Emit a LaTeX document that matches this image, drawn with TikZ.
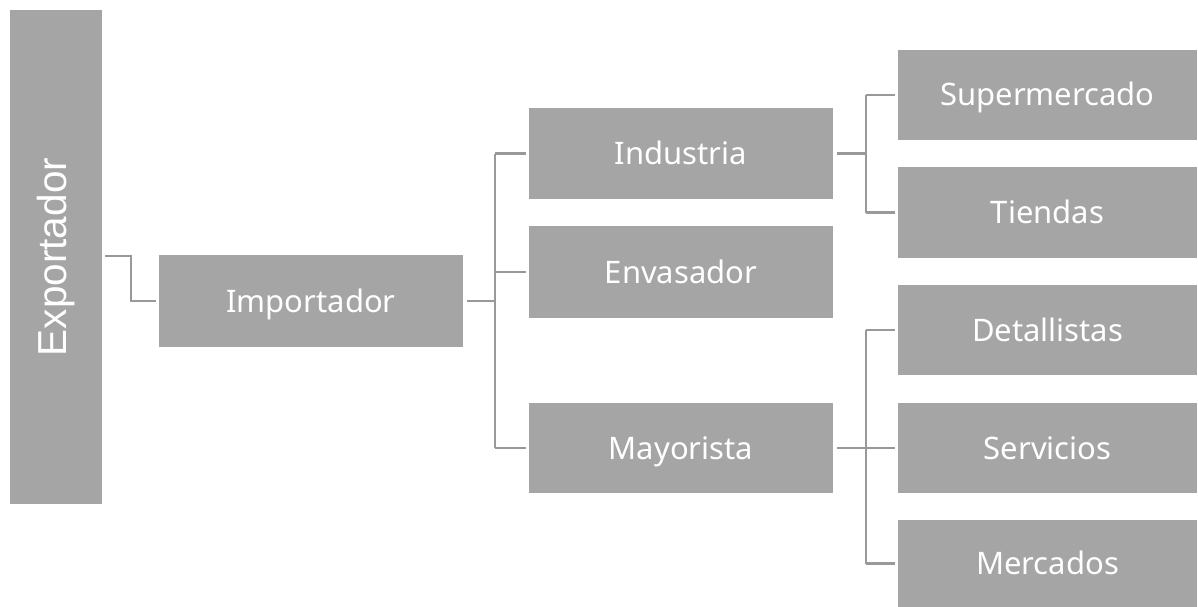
\documentclass[tikz,border=0pt]{standalone}
\usepackage{fontspec}
\setmainfont{Noto Sans}
\newfontfamily\arialfont{Liberation Sans}
\begin{document}
\begin{tikzpicture}[x=1pt,y=-1pt,
  box/.style={fill=boxgray, draw=none, text=white, inner sep=0pt,
    text height=24pt, text depth=2pt,
    font=\fontsize{31}{35}\selectfont},
  conn/.style={draw=linegray, line width=2.6pt}]
\definecolor{boxgray}{HTML}{A5A5A5}
\definecolor{linegray}{HTML}{999999}
\useasboundingbox (0,0) rectangle (1198,607);
% vertical source box
\node[box, minimum width=92pt, minimum height=494pt, text height=, text depth=,
  font=\arialfont\fontsize{40.5}{44}\selectfont] (exp) at (56,257)
  {\rotatebox{90}{Exportador}};
% second level
\node[box, minimum width=304pt, minimum height=92pt] (imp) at (311,301) {Importador};
% third level
\node[box, minimum width=304pt, minimum height=91pt] (ind) at (681,153.5) {Industria};
\node[box, minimum width=304pt, minimum height=92pt] (env) at (681,272) {Envasador};
\node[box, minimum width=304pt, minimum height=90pt] (may) at (681,448) {Mayorista};
% fourth level
\node[box, minimum width=299pt, minimum height=90pt] (sup) at (1047.5,95) {Supermercado};
\node[box, minimum width=299pt, minimum height=91pt] (tie) at (1047.5,212.5) {Tiendas};
\node[box, minimum width=299pt, minimum height=90pt] (det) at (1047.5,330) {Detallistas};
\node[box, minimum width=299pt, minimum height=90pt] (ser) at (1047.5,448) {Servicios};
\node[box, minimum width=299pt, minimum height=87pt] (mer) at (1047.5,563.5) {Mercados};
% hub points
\coordinate (h0) at (131,256);
\coordinate (h1) at (495,301);
\coordinate (h2) at (866,153.5);
\coordinate (h3) at (866,448);
% exportador -> importador
\draw[conn] ([xshift=3pt]exp.east |- h0) -- (h0) |- ([xshift=-3pt]imp.west);
% importador -> third level
\draw[conn] ([xshift=4pt]imp.east) -- (h1);
\draw[conn] (h1 |- ind.west) -- (h1 |- may.west);
\draw[conn] (h1 |- ind.west) -- ([xshift=-3pt]ind.west);
\draw[conn] (h1 |- env.west) -- ([xshift=-3pt]env.west);
\draw[conn] (h1 |- may.west) -- ([xshift=-3pt]may.west);
% industria -> fourth level
\draw[conn] ([xshift=4pt]ind.east) -- (h2);
\draw[conn] (h2 |- sup.west) -- (h2 |- tie.west);
\draw[conn] (h2 |- sup.west) -- ([xshift=-3pt]sup.west);
\draw[conn] (h2 |- tie.west) -- ([xshift=-3pt]tie.west);
% mayorista -> fourth level
\draw[conn] ([xshift=4pt]may.east) -- ([xshift=-3pt]ser.west);
\draw[conn] (h3 |- det.west) -- (h3 |- mer.west);
\draw[conn] (h3 |- det.west) -- ([xshift=-3pt]det.west);
\draw[conn] (h3 |- mer.west) -- ([xshift=-3pt]mer.west);
\end{tikzpicture}
\end{document}
